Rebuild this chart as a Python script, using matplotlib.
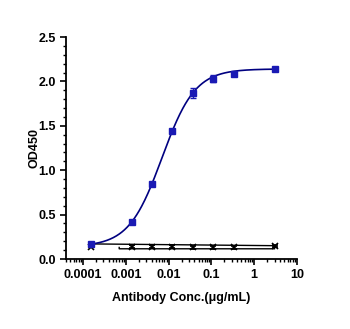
import numpy as np
import matplotlib
matplotlib.use("Agg")
import matplotlib.pyplot as plt
from matplotlib.ticker import LogLocator, MultipleLocator

plt.rcParams['font.family'] = ['Liberation Sans', 'DejaVu Sans']

# antibody series (blue)
conc = [0.00015, 0.00137, 0.0041, 0.0123, 0.037, 0.111, 0.333, 3.0]
od = [0.17, 0.42, 0.84, 1.44, 1.87, 2.03, 2.08, 2.14]
od_err = [0.01, 0.01, 0.01, 0.02, 0.06, 0.04, 0.01, 0.01]

# negative control (black x)
neg_conc = [0.00015, 0.00137, 0.0041, 0.0123, 0.037, 0.111, 0.333, 3.0]
neg_od = [0.14, 0.14, 0.14, 0.14, 0.13, 0.13, 0.13, 0.145]
neg_err = [0.01, 0.02, 0.02, 0.02, 0.02, 0.02, 0.02, 0.01]

# outline of the negative control fit as drawn
neg_fit_x = [0.00015, 3.0, 3.0, 0.0007, 0.0007]
neg_fit_y = [0.17, 0.15, 0.115, 0.115, 0.13]

# 4PL fit parameters for the blue series
bottom, top, ec50, hill = 0.14, 2.14, 0.0070, 1.12

yticks = [0.0, 0.5, 1.0, 1.5, 2.0, 2.5]
xticks = [1e-4, 1e-3, 1e-2, 1e-1, 1, 10]
xtick_labels = ['0.0001', '0.001', '0.01', '0.1', '1', '10']

xs = np.logspace(np.log10(conc[0]), np.log10(conc[-1]), 300)
fit = bottom + (top - bottom) / (1 + (ec50 / xs) ** hill)

fig = plt.figure(figsize=(3.5, 3.29), dpi=100)
ax = fig.add_axes([66/350, 70/329, 231/350, 222/329])

ax.plot(neg_fit_x, neg_fit_y, color='black', lw=1.0)
ax.errorbar(neg_conc, neg_od, yerr=neg_err, fmt='x', color='black',
            ms=5, mew=1.2, capsize=2, elinewidth=1)

ax.plot(xs, fit, color='#000080', lw=1.2)
ax.errorbar(conc, od, yerr=od_err, fmt='s', color='#1a1ab4', ms=4.5,
            capsize=2.5, elinewidth=1, mec='#1a1ab4')

ax.set_xscale('log')
ax.set_xlim(4e-5, 10)
ax.set_ylim(0, 2.5)

ax.set_xticks(xticks)
ax.set_xticklabels(xtick_labels)
ax.xaxis.set_minor_locator(LogLocator(base=10, subs=np.arange(2, 10)))
ax.set_yticks(yticks)
ax.set_yticklabels(['%.1f' % v for v in yticks])
ax.yaxis.set_minor_locator(MultipleLocator(0.1))

for s in ['top', 'right']:
    ax.spines[s].set_visible(False)
for s in ['left', 'bottom']:
    ax.spines[s].set_linewidth(1.3)

ax.tick_params(which='major', direction='out', length=4, width=1.2, labelsize=9)
ax.tick_params(which='minor', direction='out', length=2.5, width=1)
for lab in ax.get_xticklabels() + ax.get_yticklabels():
    lab.set_fontweight('bold')

ax.set_xlabel('Antibody Conc.(μg/mL)', fontsize=9, fontweight='bold')
ax.set_ylabel('OD450', fontsize=9, fontweight='bold')
ax.xaxis.set_label_coords(0.5, -0.15)
ax.yaxis.set_label_coords(-0.11, 0.5)

fig.savefig('out.png', dpi=100)
